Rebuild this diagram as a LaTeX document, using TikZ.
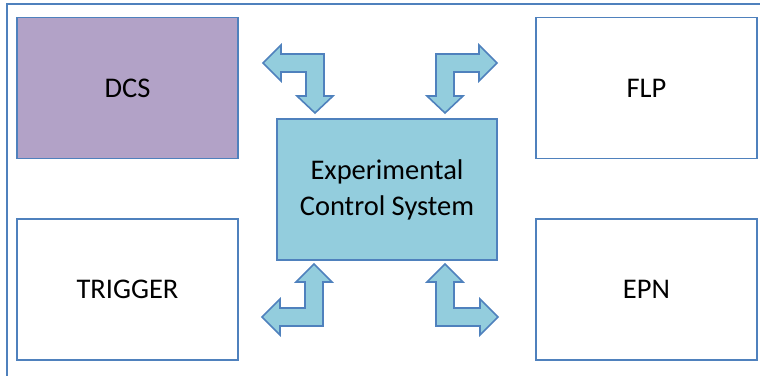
\documentclass[tikz,border=0pt]{standalone}
\usepackage{fontspec}
\setmainfont{Carlito}
\definecolor{edgeblue}{RGB}{79,129,189}
\definecolor{dcsfill}{RGB}{178,162,199}
\definecolor{ecsfill}{RGB}{147,205,221}
\tikzset{
  unit/.style={draw=edgeblue, line width=1.6pt, fill=white, minimum width=221pt,
    minimum height=141pt, inner sep=0pt, font=\fontsize{28.5}{34}\selectfont},
  core/.style={draw=edgeblue, line width=1.6pt, fill=ecsfill, minimum width=220pt,
    minimum height=141pt, inner sep=0pt, align=center, font=\fontsize{28.5}{36}\selectfont},
  blockarrow/.style={draw=edgeblue, line width=1.6pt, fill=ecsfill, line join=miter},
  frame/.style={draw=edgeblue, line width=1.8pt}
}
\begin{document}
\begin{tikzpicture}[x=1pt, y=-1pt]
  \useasboundingbox (0,0) rectangle (760,375);
  % outer frame (open to the right and bottom)
  \draw[frame] (7,376) -- (7,4) -- (761,4);

  % subsystem boxes
  \node[unit, fill=dcsfill] (dcs) at (127.5,88) {DCS};
  \node[unit] (flp) at (646.5,88) {FLP};
  \node[unit] (trigger) at (127.5,289.5) {TRIGGER};
  \node[unit] (epn) at (646.5,289.5) {EPN};

  % central control system
  \node[core] (ecs) at (387,189.5) {Experimental\\Control System};

  % bent two-headed arrows between ECS and each subsystem
  % towards DCS
  \draw[blockarrow] (263,63) -- (281,45) -- (281,54) -- (324,54) -- (324,96)
    -- (333,96) -- (315,113) -- (297,96) -- (306,96) -- (306,72) -- (281,72)
    -- (281,81) -- cycle;
  % towards FLP
  \draw[blockarrow] (497,63) -- (479,45) -- (479,54) -- (436,54) -- (436,96)
    -- (427,96) -- (445,113) -- (463,96) -- (454,96) -- (454,72) -- (479,72)
    -- (479,81) -- cycle;
  % towards TRIGGER
  \draw[blockarrow] (262,317) -- (280,299) -- (280,308) -- (305,308) -- (305,282)
    -- (296,282) -- (314,264) -- (332,282) -- (323,282) -- (323,326) -- (280,326)
    -- (280,335) -- cycle;
  % towards EPN
  \draw[blockarrow] (498,317) -- (480,299) -- (480,308) -- (454,308) -- (454,282)
    -- (463,282) -- (445,264) -- (427,282) -- (436,282) -- (436,326) -- (480,326)
    -- (480,335) -- cycle;
\end{tikzpicture}
\end{document}
